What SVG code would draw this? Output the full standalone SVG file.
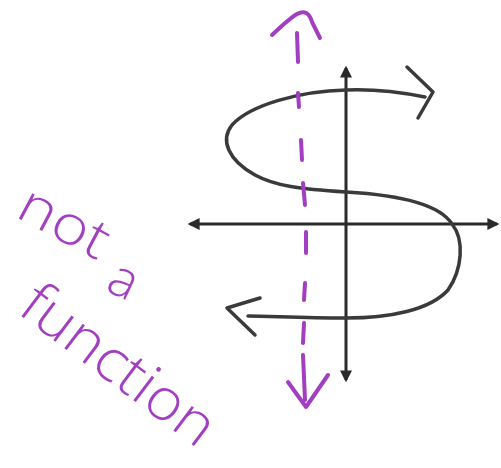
<svg xmlns="http://www.w3.org/2000/svg" width="501" height="468" viewBox="0 0 501 468">
<defs>
<style>
.axis{stroke:#2a2a2a;stroke-width:3;fill:none}
.curve{stroke:#3a3a3a;stroke-width:3.5;fill:none;stroke-linecap:round;stroke-linejoin:round}
.dash{stroke:#a23fc0;stroke-width:4;fill:none;stroke-linecap:round;stroke-linejoin:round}
.hw{fill:#a23fc0;font-family:"Open Sans","DejaVu Sans",sans-serif;font-weight:300}
</style>
<marker id="ah" viewBox="0 0 10 10" refX="8" refY="5" markerWidth="4" markerHeight="4" orient="auto-start-reverse">
<path d="M0,0 L10,5 L0,10 z" fill="#2a2a2a"/>
</marker>
</defs>
<rect width="501" height="468" fill="#ffffff"/>
<g id="axes">
<line class="axis" x1="190" y1="224" x2="497" y2="224" marker-start="url(#ah)" marker-end="url(#ah)"/>
<line class="axis" x1="346" y1="68" x2="346" y2="380" marker-start="url(#ah)" marker-end="url(#ah)"/>
</g>
<g id="s-curve">
<path class="curve" d="M425,97 C400,92 370,89 346,90 C300,91 250,105 232,125 C220,140 228,160 255,175 C275,186 300,189 346,192 C400,195 440,205 452,224 C465,240 462,270 448,290 C430,310 390,318 346,318 C300,318 270,316 248,316"/>
<path class="curve" d="M407,67 L433,92 L418,118"/>
<path class="curve" d="M260,298 L227,308 L255,335"/>
</g>
<g id="vertical-line-test">
<path class="dash" d="M297,33 L298,62 M298,93 L299,107 M301,140 L302,160 M303,183 L305,205 M306,232 L306,253 M305,283 L304,300 M304,323 L303,343 M303,355 L305,400"/>
<path class="dash" d="M272,35 Q290,18 297,14 Q308,8 312,22 L320,38"/>
<path class="dash" d="M288,382 L306,407 L328,375"/>
</g>
<g id="label">
<text class="hw" x="14" y="216" font-size="54" transform="rotate(28 14 216)" textLength="95" lengthAdjust="spacingAndGlyphs">not</text>
<text class="hw" x="104" y="290" font-size="52" transform="rotate(25 104 290)">a</text>
<text class="hw" x="16" y="312" font-size="58" transform="rotate(37 16 312)" textLength="228" lengthAdjust="spacingAndGlyphs">function</text>
</g>
</svg>
